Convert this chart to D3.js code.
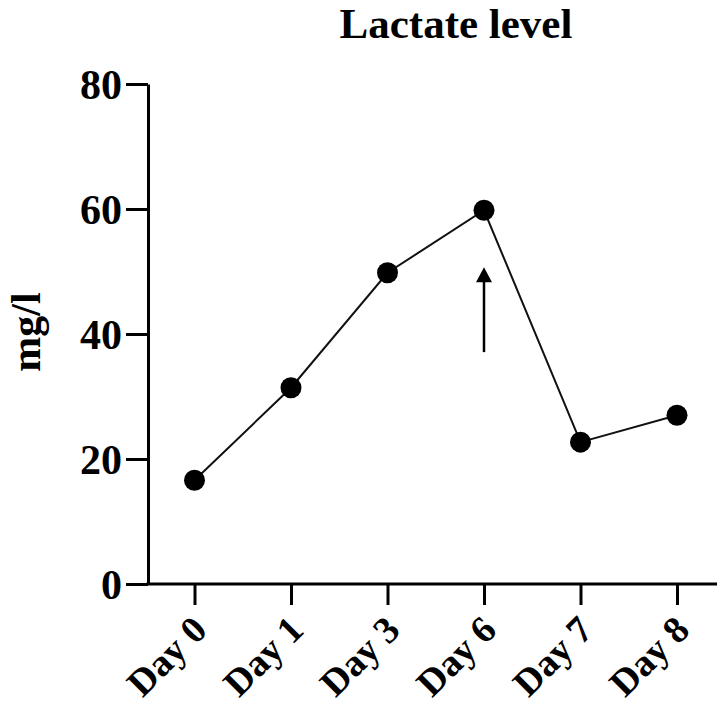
<!DOCTYPE html>
<html>
<head>
<meta charset="utf-8">
<script src="https://cdn.jsdelivr.net/npm/d3@7"></script>
<style>
  html, body { margin: 0; padding: 0; background: #fff; }
  svg { display: block; }
  text { font-family: "Liberation Serif", "Times New Roman", serif; font-weight: bold; fill: #000; }
</style>
</head>
<body>
<svg id="chart" width="717" height="711"></svg>
<script>
// Lactate measurements per sampling day (mg/l)
const days = ["Day 0", "Day 1", "Day 3", "Day 6", "Day 7", "Day 8"];
const lactate = [16.6, 31.4, 49.8, 59.8, 22.7, 27.0];
const yTicks = [0, 20, 40, 60, 80];

// Arrow marking the intervention day (value range it spans)
const arrowDay = "Day 6";
const arrowFrom = 37.1;
const arrowTo = 50.7;

const svg = d3.select("#chart");

const x = d3.scalePoint().domain(days).range([194.5, 677]);
const y = d3.scaleLinear().domain([0, 80]).range([584, 84]);
const axisLeftX = 148;
const axisRightEnd = 717;

// Title
svg.append("text")
  .attr("x", 456).attr("y", 38)
  .attr("text-anchor", "middle")
  .style("font-size", "43px")
  .text("Lactate level");

// Y axis
const yAxis = svg.append("g")
  .attr("transform", `translate(${axisLeftX},0)`)
  .call(d3.axisLeft(y).tickValues(yTicks).tickSize(22).tickSizeOuter(0).tickPadding(4));
yAxis.select(".domain").attr("stroke", "#000").attr("stroke-width", 3);
yAxis.selectAll(".tick line").attr("stroke", "#000").attr("stroke-width", 3);
yAxis.selectAll(".tick text")
  .attr("fill", "#000")
  .style("font-size", "42px")
  .style("font-family", "'Liberation Serif', serif")
  .style("font-weight", "bold")
  .attr("dy", "0.34em");

// Y label
svg.append("text")
  .attr("transform", "translate(40,332) rotate(-90)")
  .attr("text-anchor", "middle")
  .style("font-size", "42px")
  .text("mg/l");

// X axis line
svg.append("line")
  .attr("x1", axisLeftX - 1.5).attr("x2", axisRightEnd)
  .attr("y1", y(0)).attr("y2", y(0))
  .attr("stroke", "#000").attr("stroke-width", 3);

const xAxis = svg.append("g")
  .attr("transform", `translate(0,${y(0)})`)
  .call(d3.axisBottom(x).tickSize(21).tickSizeOuter(0));
xAxis.select(".domain").remove();
xAxis.selectAll(".tick line").attr("stroke", "#000").attr("stroke-width", 3);
xAxis.selectAll(".tick text")
  .attr("fill", "#000")
  .style("font-size", "38px")
  .style("font-family", "'Liberation Serif', serif")
  .style("font-weight", "bold")
  .attr("text-anchor", "end")
  .attr("x", 0).attr("y", 0)
  .attr("dx", 0).attr("dy", 0)
  .attr("transform", "translate(14,48) rotate(-45)");

// Line
const pts = days.map((d, i) => ({ day: d, v: lactate[i] }));
svg.append("path")
  .datum(pts)
  .attr("fill", "none")
  .attr("stroke", "#111")
  .attr("stroke-width", 2)
  .attr("d", d3.line().x(d => x(d.day)).y(d => y(d.v)));

// Markers
svg.selectAll("circle.pt")
  .data(pts)
  .join("circle")
  .attr("class", "pt")
  .attr("cx", d => x(d.day))
  .attr("cy", d => y(d.v))
  .attr("r", 10.5)
  .attr("fill", "#000");

// Arrow
const ax = x(arrowDay);
svg.append("line")
  .attr("x1", ax).attr("x2", ax)
  .attr("y1", y(arrowFrom)).attr("y2", y(arrowTo) + 12)
  .attr("stroke", "#000").attr("stroke-width", 2.5);
svg.append("path")
  .attr("d", `M${ax},${y(arrowTo)} L${ax - 8},${y(arrowTo) + 15} L${ax + 8},${y(arrowTo) + 15} Z`)
  .attr("fill", "#000");
</script>
</body>
</html>
